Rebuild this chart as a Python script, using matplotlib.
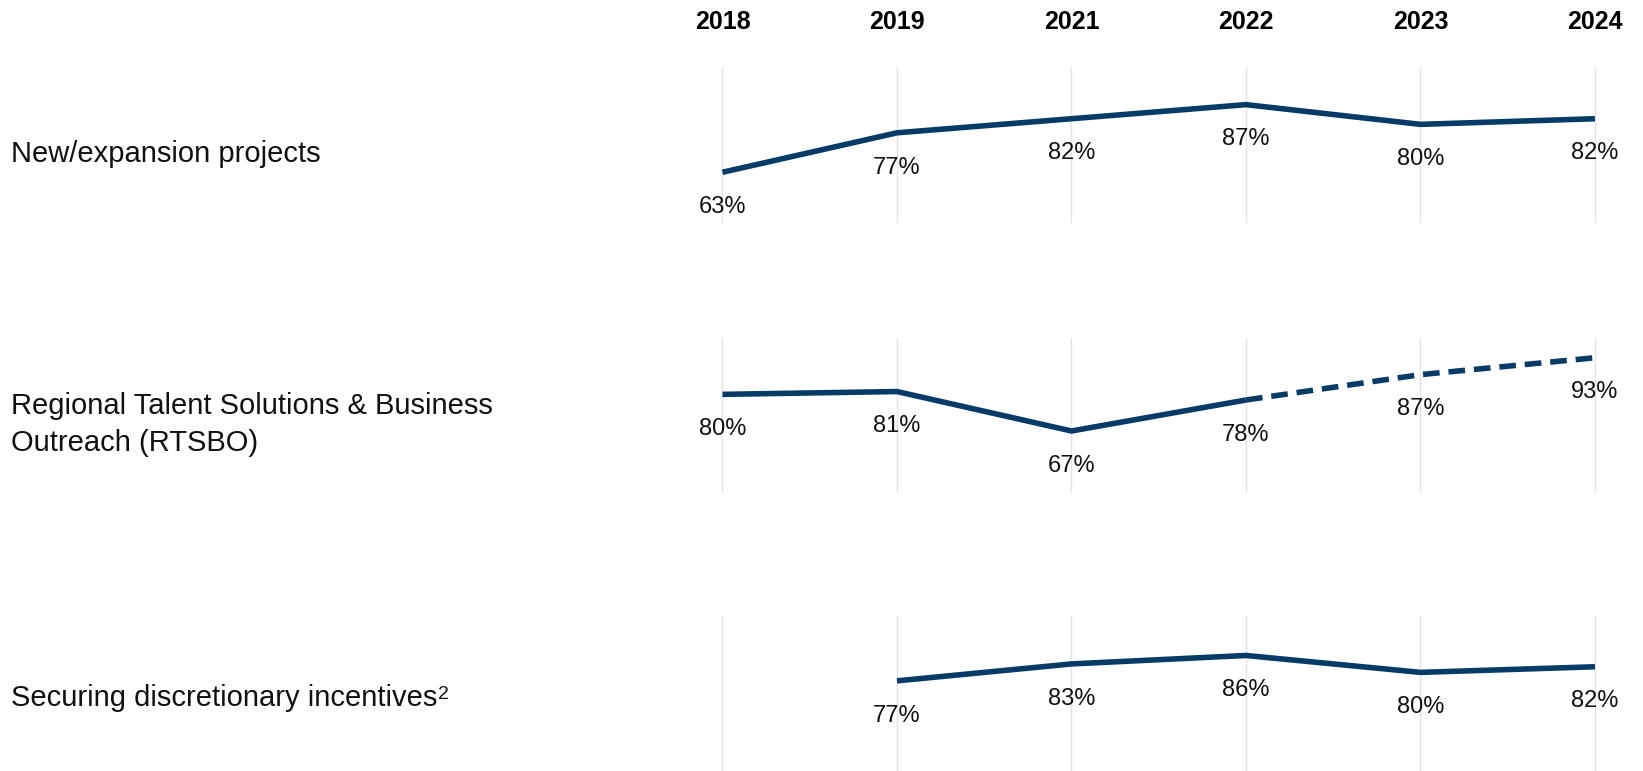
import numpy as np
import matplotlib.pyplot as plt

plt.rcParams['font.family'] = ['Liberation Sans', 'DejaVu Sans']

years = ['2018', '2019', '2021', '2022', '2023', '2024']
rows = ['New/expansion projects',
        'Regional Talent Solutions & Business\nOutreach (RTSBO)',
        'Securing discretionary incentives']
footnotes = [None, None, '2']
new_expansion = [63, 77, 82, 87, 80, 82]
rtsbo = [80, 81, 67, 78, 87, 93]
incentives = [np.nan, 77, 83, 86, 80, 82]
series = [new_expansion, rtsbo, incentives]
# RTSBO is dashed from 2022 onward
dashed_from = [None, 3, None]

navy = '#063a67'
grid = '#e3e3e3'

fig = plt.figure(figsize=(16.43, 7.71), dpi=100)
x = np.arange(len(years))

bottoms = [0.7108, 0.3606, 0.0]
label_y = [0.80, 0.449, 0.095]
axes = []
for i, vals in enumerate(series):
    ax = fig.add_axes([0.4185, bottoms[i], 0.5735, 0.201])
    axes.append(ax)
    vals = np.array(vals, dtype=float)
    for xi in x:
        ax.axvline(xi, color=grid, lw=1, zorder=0)
    d = dashed_from[i]
    if d is None:
        ax.plot(x, vals, color=navy, lw=4.0, solid_capstyle='butt')
    else:
        ax.plot(x[:d + 1], vals[:d + 1], color=navy, lw=4.0, solid_capstyle='butt')
        ax.plot(x[d:], vals[d:], color=navy, lw=4.0, dashes=(3, 1.6),
                dash_capstyle='butt')
    for xi, v in zip(x, vals):
        if np.isnan(v):
            continue
        ax.annotate('%d%%' % v, (xi, v), xytext=(0, -25), textcoords='offset points',
                    ha='center', va='center', fontsize=17, color='#111111',
                    annotation_clip=False)
    ax.set_xlim(-0.2, 5.2)
    ax.set_ylim(45, 100)
    ax.axis('off')
    t = fig.text(0.0065, label_y[i], rows[i], ha='left', va='center', fontsize=21,
                 color='#111111', linespacing=1.4)
    if footnotes[i]:
        ax.annotate(footnotes[i], xy=(1.0, 0.93), xycoords=t, xytext=(1, 0),
                    textcoords='offset points', ha='left', va='top',
                    fontsize=14, color='#111111', annotation_clip=False)

# year headers
for xi, yr in zip(x, years):
    axes[0].text(xi, 1.30, yr, transform=axes[0].get_xaxis_transform(),
                 ha='center', va='center', fontsize=18, fontweight='bold')

fig.savefig('out.png', dpi=100)
